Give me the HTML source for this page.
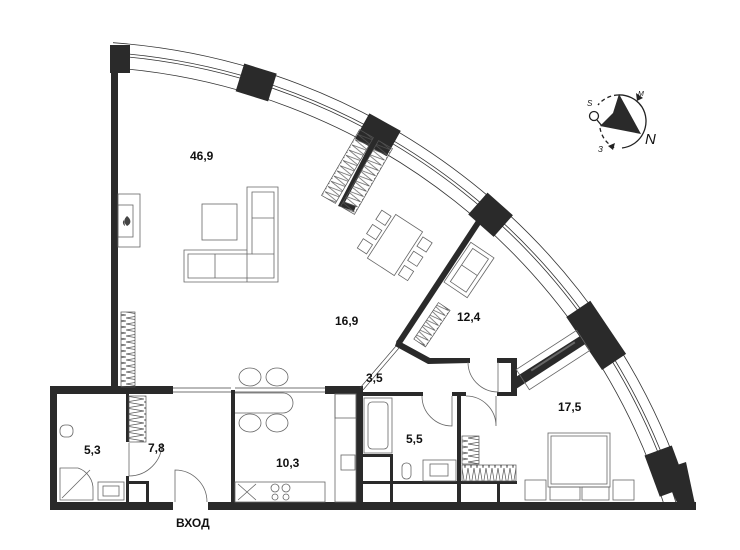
<!DOCTYPE html>
<html><head><meta charset="utf-8"><style>
html,body{margin:0;padding:0;background:#fff;overflow:hidden;width:740px;height:550px}
svg{display:block}
text{font-family:"Liberation Sans",sans-serif;font-weight:bold;font-size:12px;fill:#111}
</style></head><body>
<svg width="740" height="550" viewBox="0 0 740 550" xmlns="http://www.w3.org/2000/svg">
<defs>
<pattern id="zz" patternUnits="userSpaceOnUse" width="18" height="6"><path d="M0,0 L18,3 L0,6" fill="none" stroke="#555" stroke-width="0.7"/></pattern>
<pattern id="zh" patternUnits="userSpaceOnUse" width="6" height="18"><path d="M0,0 L3,18 L6,0" fill="none" stroke="#555" stroke-width="0.7"/></pattern>
</defs>
<rect width="740" height="550" fill="#fff"/>
<g fill="none" stroke="#333" stroke-width="0.8">
<path d="M113,42.7 A652,652 0 0 1 689.4,502"/>
<path d="M113,67.8 A627,627 0 0 1 663.2,502"/>
<path d="M113,55.7 A639,639 0 0 1 675.8,502"/>
<path d="M113,52.7 A642,642 0 0 1 678.9,502"/>
</g>
<g fill="#2a2a2a">
<g transform="translate(66,693) rotate(-72.7)"><rect x="625" y="-17" width="29" height="34"/></g>
<g transform="translate(66,693) rotate(-60.8)"><rect x="625" y="-18" width="29" height="36"/></g>
<g transform="translate(66,693) rotate(-48.4)"><rect x="625" y="-17" width="29" height="34"/></g>
<g transform="translate(66,693) rotate(-34)"><rect x="625" y="-32" width="29" height="64"/></g>
<g transform="translate(66,693) rotate(-20.3)"><rect x="625" y="-22" width="29" height="44"/></g>
<polygon points="662,470 686,462 696,509 680,509"/>
<rect x="110" y="45" width="20" height="28"/>
<rect x="111" y="45" width="7" height="344"/>
<rect x="50" y="386" width="123" height="8"/>
<rect x="50" y="386" width="7" height="124"/>
<rect x="50" y="502" width="123" height="8"/>
<rect x="208" y="502" width="488" height="8"/>
<rect x="325" y="386" width="36" height="8"/>
<rect x="356" y="386" width="7" height="118"/>
<rect x="231" y="390" width="4" height="114"/>
<rect x="126" y="394" width="3" height="48"/>
<rect x="126" y="476" width="3" height="28"/>
<rect x="128" y="481" width="20" height="3"/>
<rect x="146" y="481" width="3" height="23"/>
<rect x="361" y="392" width="62" height="4"/>
<rect x="452" y="392" width="14" height="4"/>
<rect x="497" y="392" width="19" height="4"/>
<rect x="457" y="392" width="4" height="112"/>
<rect x="361" y="454" width="32" height="3"/>
<rect x="390" y="454" width="3" height="50"/>
<rect x="361" y="481" width="97" height="3"/>
<rect x="461" y="481" width="56" height="3"/>
<rect x="497" y="481" width="3" height="23"/>
<polygon points="397,340 430,358 470,358 470,363 428,364 395,346"/>
<rect x="497" y="358" width="19" height="5"/>
<rect x="511" y="358" width="6" height="38"/>
<polygon points="511,380 588,331 593,339 516,389"/>
<polygon points="481,213 486,216 401,345 396,342"/>
<polygon points="373,138 378,141 345,202 356,206 354,211 338,206"/>
</g>
<g stroke="#444" stroke-width="0.7" fill="none">
<line x1="173" y1="388" x2="231" y2="388"/><line x1="173" y1="392" x2="231" y2="392"/>
<line x1="235" y1="388" x2="325" y2="388"/><line x1="235" y1="392" x2="325" y2="392"/>
<line x1="396" y1="346" x2="360" y2="388"/><line x1="399" y1="348" x2="363" y2="390"/>
</g>
<g stroke="#555" stroke-width="0.7">
<rect x="121" y="312" width="14" height="75" fill="url(#zz)"/>
<rect x="129" y="396" width="17" height="46" fill="url(#zz)"/>
<rect x="462" y="436" width="17" height="28" fill="url(#zz)"/>
<rect x="462" y="465" width="54" height="16" fill="url(#zh)"/>
<g transform="translate(357,172) rotate(120)">
<rect x="-38" y="-19" width="76" height="16" fill="url(#zh)"/>
<rect x="-38" y="3" width="76" height="16" fill="url(#zh)"/>
</g>
<g transform="translate(422,318) rotate(-56)">
<rect x="-22" y="5" width="44" height="14" fill="url(#zh)"/>
</g>
</g>
<g fill="none" stroke="#666" stroke-width="0.8">
<rect x="118" y="194" width="22" height="53"/><rect x="118" y="205" width="15" height="32"/>
<path d="M247,187 H278 V282 H184 V250 H247 Z"/>
<path d="M252,192 H274 V278 H188 V254 H252 Z"/>
<line x1="252" y1="218" x2="274" y2="218"/><line x1="252" y1="254" x2="274" y2="254"/>
<line x1="215" y1="254" x2="215" y2="278"/><line x1="247" y1="250" x2="247" y2="282"/>
<rect x="202" y="204" width="35" height="36"/>
<g transform="translate(395,245) rotate(33)">
<rect x="-16" y="-26" width="32" height="52"/>
<rect x="-30" y="-22" width="11" height="11"/><rect x="-30" y="-5" width="11" height="11"/><rect x="-30" y="12" width="11" height="11"/>
<rect x="19" y="-22" width="11" height="11"/><rect x="19" y="-5" width="11" height="11"/><rect x="19" y="12" width="11" height="11"/>
</g>
<g transform="translate(469,270) rotate(34)">
<rect x="-14" y="-24" width="28" height="48"/><rect x="-9" y="-20" width="19" height="40"/><line x1="-9" y1="0" x2="10" y2="0"/>
</g>
<g transform="translate(553,360) rotate(-33)">
<rect x="-36" y="-12" width="72" height="24"/><line x1="-24" y1="-3" x2="28" y2="-3" stroke-width="2"/>
</g>
<rect x="548" y="433" width="62" height="54"/><rect x="551" y="436" width="56" height="48"/>
<rect x="525" y="480" width="21" height="20"/><rect x="613" y="480" width="21" height="20"/>
<rect x="550" y="487" width="30" height="13"/><rect x="582" y="487" width="27" height="13"/>
<path d="M129,443 V476 A33,33 0 0 0 162,443"/>
<path d="M175,502 V470 A32,32 0 0 1 207,502"/>
<path d="M422,396 A30,30 0 0 0 452,426 V396"/>
<path d="M468,362 A30,30 0 0 0 498,392 V362"/>
<path d="M466,396 A30,30 0 0 1 496,426 V396"/>
<ellipse cx="250" cy="377" rx="11" ry="9"/><ellipse cx="277" cy="377" rx="11" ry="9"/>
<ellipse cx="250" cy="423" rx="11" ry="9"/><ellipse cx="277" cy="423" rx="11" ry="9"/>
<path d="M235,393 H283 A10,10 0 0 1 283,413 H235"/>
<rect x="235" y="482" width="90" height="20"/><rect x="335" y="394" width="21" height="108"/>
<rect x="335" y="394" width="21" height="24"/>
<path d="M238,484 L256,500 M256,484 L238,500"/>
<circle cx="275" cy="488" r="4"/><circle cx="286" cy="488" r="4"/><circle cx="275" cy="497" r="3"/><circle cx="286" cy="497" r="3"/>
<rect x="341" y="455" width="14" height="15"/>
<rect x="364" y="398" width="28" height="55"/><rect x="368" y="402" width="20" height="47" rx="4"/>
<rect x="402" y="463" width="9" height="16" rx="4"/>
<rect x="423" y="460" width="33" height="21"/><rect x="430" y="464" width="18" height="12"/>
<rect x="60" y="425" width="13" height="12" rx="5"/>
<path d="M60,468 H78 A22,22 0 0 1 93,490 V500 H60 Z"/><line x1="62" y1="498" x2="90" y2="470"/>
<rect x="98" y="482" width="26" height="18"/><rect x="103" y="486" width="16" height="10"/>
</g>
<path d="M127,216 c-3,3 -4,6 0,10 c4,-2 5,-6 0,-10z M124,220 c-2,2 -1,5 1,6" fill="#444"/>
<g fill="none" stroke="#222" stroke-width="1.3">
<path d="M618,95 A27,27 0 0 0 598,105" stroke-dasharray="4,3"/>
<path d="M618,95 A27,27 0 0 1 642,107 A27,27 0 0 1 622,148"/>
<path d="M600,128 A27,27 0 0 0 615,148" stroke-dasharray="4,3"/>
<circle cx="594" cy="116" r="4.5"/>
<line x1="597" y1="120" x2="602" y2="126"/>
</g>
<polygon points="619,94 641,134 600,126 613,113" fill="#2a2a2a"/>
<polygon points="636,93 643,98 637,101" fill="#222"/>
<polygon points="608,146 615,143 613,150" fill="#222"/>
<text x="587" y="106" style="font-size:8px;font-weight:normal;font-style:italic">S</text>
<text x="638" y="96" style="font-size:7px;font-weight:normal;font-style:italic">M</text>
<text x="598" y="152" style="font-size:8px;font-weight:normal;font-style:italic">З</text>
<text x="645" y="144" style="font-size:15px;font-weight:normal;font-style:italic">N</text>
<text x="190" y="160">46,9</text>
<text x="335" y="325">16,9</text>
<text x="457" y="321">12,4</text>
<text x="366" y="382">3,5</text>
<text x="406" y="443">5,5</text>
<text x="558" y="411">17,5</text>
<text x="84" y="454">5,3</text>
<text x="148" y="452">7,8</text>
<text x="276" y="467">10,3</text>
<text x="176" y="527">ВХОД</text>
</svg>
</body></html>
